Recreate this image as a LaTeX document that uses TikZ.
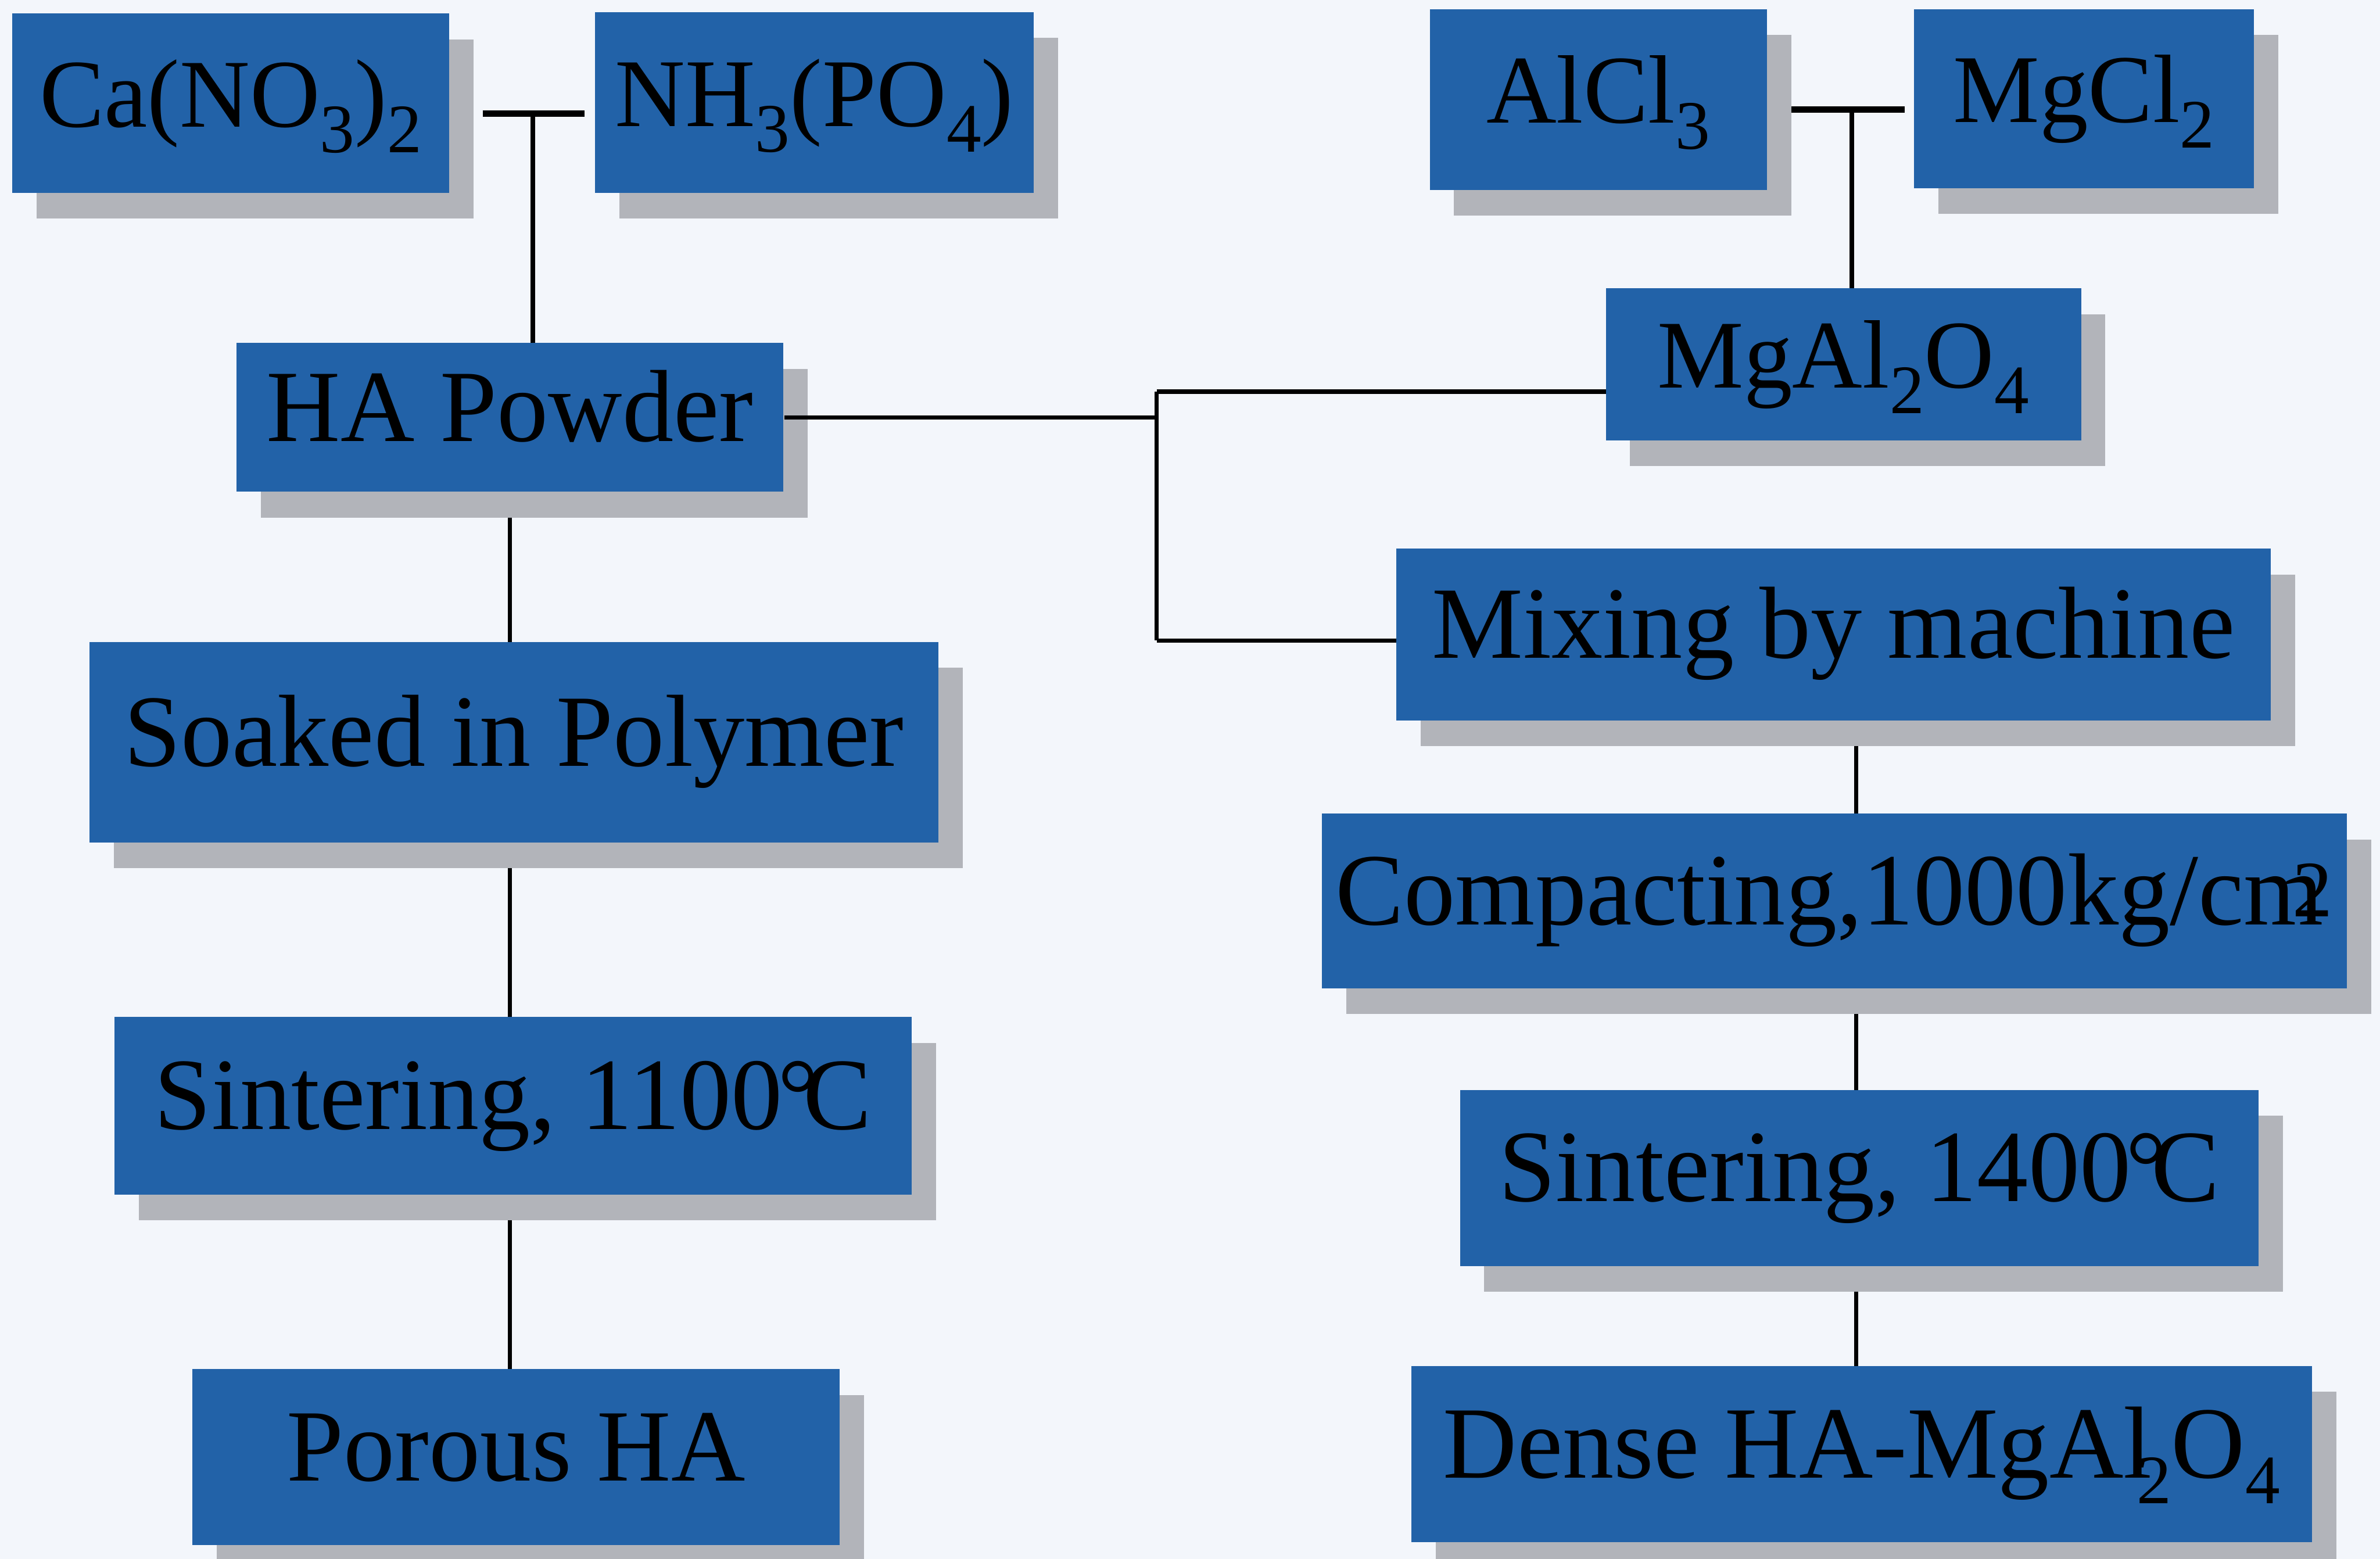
\documentclass[tikz,border=0pt]{standalone}
\usepackage{fontspec}
\setmainfont{Liberation Serif}
\usetikzlibrary{shadows,backgrounds}
\definecolor{boxblue}{RGB}{34,98,168}
\definecolor{shadowgrey}{RGB}{178,180,186}
\definecolor{pagebg}{RGB}{243,246,251}
\newcommand{\chsub}[1]{\raisebox{-4.8pt}{\fontsize{13}{13}\selectfont #1}}
\newcommand{\chsup}[1]{\raisebox{1.5pt}{\fontsize{15}{15}\selectfont #1}}
\newcommand{\degC}{\kern-0.05em°\kern-0.15em C}

\begin{document}
\begin{tikzpicture}[x=0.01cm, y=-0.01cm,
	box_style/.style={rectangle, fill=boxblue, inner sep=0pt, font=\fontsize{19.2}{23}\selectfont,
		text height=12.7pt, text depth=3.8pt,
		drop shadow={shadow xshift=0.16cm, shadow yshift=-0.17cm, fill=shadowgrey, opacity=1}},
	formula_style/.style={box_style, font=\fontsize{18.2}{22}\selectfont},
	link_style/.style={line width=0.8pt, black},
	stub_style/.style={line width=1.2pt, black}]
	\useasboundingbox (0,0) rectangle (1568,1027);
	
	% raw materials
	\node[formula_style, minimum width=2.88cm, minimum height=1.18cm] (ca) at (152,68) {Ca(NO\chsub{3})\chsub{2}};
	\node[formula_style, minimum width=2.89cm, minimum height=1.19cm] (nh) at (536.5,67.5) {NH\chsub{3}(PO\chsub{4})};
	\node[formula_style, minimum width=2.22cm, minimum height=1.19cm] (alcl) at (1053,65.5) {AlCl\chsub{3}};
	\node[formula_style, minimum width=2.24cm, minimum height=1.18cm] (mgcl) at (1373,65) {MgCl\chsub{2}};
	
	% powders
	\node[box_style, minimum width=3.60cm, minimum height=0.98cm] (hap) at (336,275) {HA Powder};
	\node[formula_style, minimum width=3.13cm, minimum height=1.00cm] (mgal) at (1214.5,240) {MgAl\chsub{2}O\chsub{4}};
	
	% porous route
	\node[box_style, minimum width=5.59cm, minimum height=1.32cm] (soak) at (338.5,489) {Soaked in Polymer};
	\node[box_style, minimum width=5.25cm, minimum height=1.17cm] (sin1) at (338,728.5) {Sintering, 1100\degC};
	\node[box_style, minimum width=4.26cm, minimum height=1.16cm] (por) at (340,960) {Porous HA};
	
	% dense route
	\node[box_style, minimum width=5.76cm, minimum height=1.13cm] (mix) at (1208,418) {Mixing by machine};
	\node[box_style, minimum width=6.75cm, minimum height=1.15cm] (comp) at (1208.5,593.5) {Compacting,1000kg/cm\kern-0.3em\chsup{2}};
	\node[box_style, minimum width=5.26cm, minimum height=1.16cm] (sin2) at (1225,776) {Sintering, 1400\degC};
	\node[box_style, minimum width=5.93cm, minimum height=1.16cm] (dense) at (1226.5,958) {Dense HA-MgAl\kern-0.15em\chsub{2}O\chsub{4}};
	
	\coordinate (ca_nh_l) at (318,75);
	\coordinate (ca_nh_r) at (385,75);
	\coordinate (ca_nh) at (351,75);
	\coordinate (al_mg_l) at (1171,72);
	\coordinate (al_mg_r) at (1255,72);
	\coordinate (al_mg) at (1220,72);
	\coordinate (fork_top) at (762,258);
	\coordinate (fork_bot) at (762,422);
	\coordinate (spine) at (1223,478);
	
	\draw[link_style] (hap.east) -- (hap.east -| fork_top);
	
	\begin{scope}[on background layer]
		\fill[pagebg] (0,0) rectangle (1568,1027);
		\draw[stub_style] (ca_nh_l) -- (ca_nh_r);
		\draw[stub_style] (al_mg_l) -- (al_mg_r);
		\draw[link_style] (ca_nh) -- (ca_nh |- hap);
		\draw[link_style] (al_mg) -- (al_mg |- mgal);
		\draw[link_style] (fork_top) -- (fork_bot);
		\draw[link_style] (fork_top) -- (fork_top -| mgal);
		\draw[link_style] (fork_bot) -- (fork_bot -| mix);
		\draw[link_style] (hap) -- (hap |- por);
		\draw[link_style] (spine |- mix) -- (spine |- dense);
	\end{scope}
\end{tikzpicture}
\end{document}
